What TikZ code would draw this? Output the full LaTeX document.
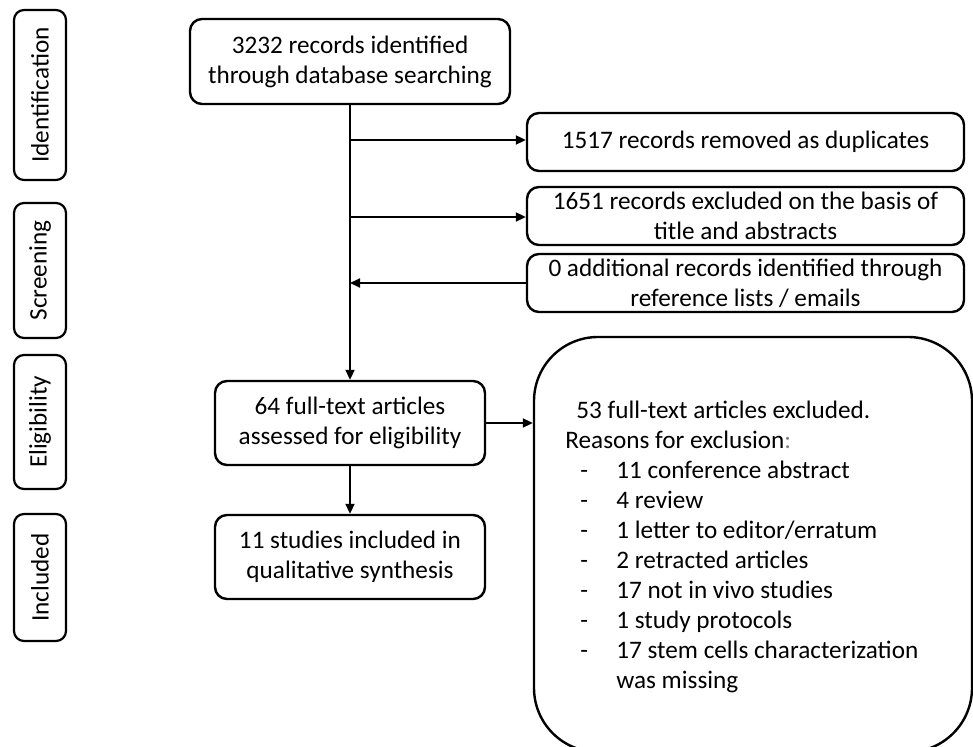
\documentclass[tikz,border=0pt]{standalone}
\usepackage{fontspec}
\setmainfont{Carlito}
\usetikzlibrary{arrows.meta}
\newcommand{\bul}{\makebox[25.5pt][l]{\hspace{7.5pt}-}}

\begin{document}
\begin{tikzpicture}[x=0.5pt,y=-0.5pt,
    font=\fontsize{12.6}{15}\selectfont,
    stagebox/.style={draw,line width=1.1pt,rounded corners=5pt,rotate=90,minimum height=26pt,inner sep=0pt},
    flowbox/.style={draw,line width=1.2pt,rounded corners=6pt,align=center,inner sep=0pt},
    arr/.style={-{Triangle[length=5pt,width=4.5pt]},line width=1pt}]
  \useasboundingbox (0,0) rectangle (973,747);
  % stages on the left
  \node[stagebox,minimum width=85pt] (ident) at (40,95) {Identification};
  \node[stagebox,minimum width=67.5pt] (screen) at (40,270.5) {Screening};
  \node[stagebox,minimum width=67pt] (elist) at (40,422) {Eligibility};
  \node[stagebox,minimum width=63.5pt] (inclst) at (40,577.5) {Included};
  % flow boxes
  \node[flowbox,minimum width=160pt,minimum height=42.5pt] (top) at (350,61.5)
    {3232 records identified\\through database searching};
  \node[flowbox,minimum width=218.5pt,minimum height=29pt] (dup) at (745.5,142)
    {1517 records removed as duplicates};
  \node[flowbox,minimum width=218.5pt,minimum height=29pt] (scr) at (745.5,216)
    {1651 records excluded on the basis of\\title and abstracts};
  \node[flowbox,minimum width=218.5pt,minimum height=29pt] (add) at (745.5,283)
    {0 additional records identified through\\reference lists / emails};
  \node[flowbox,minimum width=135pt,minimum height=42pt] (elig) at (350,423)
    {64 full-text articles\\assessed for eligibility};
  \node[flowbox,minimum width=135pt,minimum height=42pt] (incl) at (350,557)
    {11 studies included in\\qualitative synthesis};
  \node[draw,line width=1.2pt,rounded corners=32pt,minimum width=219pt,minimum height=207.5pt] (excl) at (753,544.5) {};
  \node[anchor=base west,inner sep=0pt] (reasons) at (565,419) {\begin{tabular}[t]{@{}l@{}}
    \hspace{5.5pt}53 full-text articles excluded.\\
    Reasons for exclusion{\color{gray}:}\\
    \bul 11 conference abstract\\
    \bul 4 review\\
    \bul 1 letter to editor/erratum\\
    \bul 2 retracted articles\\
    \bul 17 not in vivo studies\\
    \bul 1 study protocols\\
    \bul 17 stem cells characterization\\
    \hspace{25.5pt}was missing
  \end{tabular}};
  % connectors
  \coordinate (b1) at (350,140);
  \coordinate (b2) at (350,217);
  \draw[arr] (top) -- (elig);
  \draw[arr] (b1) -- (b1 -| dup.west);
  \draw[arr] (b2) -- (b2 -| scr.west);
  \draw[arr] (add.west) -- (add.west -| top.south);
  \draw[arr] (elig.east) -- (elig.east -| excl.west);
  \draw[arr] (elig) -- (incl);
\end{tikzpicture}
\end{document}
